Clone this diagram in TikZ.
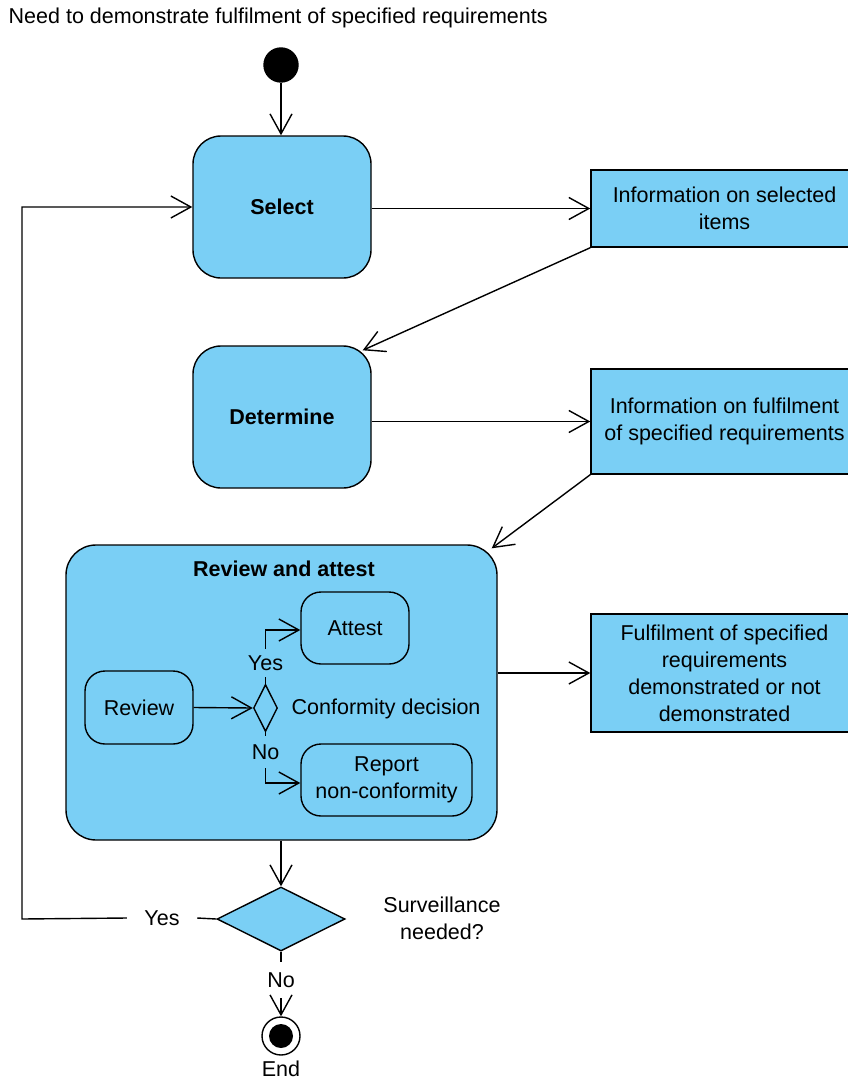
\documentclass[tikz,border=0pt]{standalone}
\usepackage{fontspec}
\setmainfont{Liberation Sans}
\usetikzlibrary{arrows.meta,shapes.geometric}
\definecolor{boxblue}{RGB}{122,207,245}
\begin{document}
\begin{tikzpicture}[x=1pt,y=-1pt,
  font=\fontsize{21.5}{27}\selectfont,
  line width=1.4pt,
  arr/.style={-{Straight Barb[length=20pt,width=22pt,line width=1.4pt]}},
  act/.style={draw, fill=boxblue, rounded corners=28pt, minimum width=178pt, minimum height=142pt, font=\fontsize{21.5}{27}\selectfont\bfseries, inner sep=0pt},
  obj/.style={draw, fill=boxblue, align=center, inner sep=0pt},
  sub/.style={draw, fill=boxblue, rounded corners=20pt, align=center, inner sep=0pt},
  lbl/.style={inner sep=0pt},
]
\useasboundingbox (0,0) rectangle (848,1081);
\node[anchor=west, inner sep=0pt] (title) at (8,18) {Need to demonstrate fulfilment of specified requirements};
\node[circle, draw, fill=black, minimum size=34pt, inner sep=0pt] (start) at (281,65) {};

\node[act] (select) at (282,207) {Select};
\node[act] (determine) at (282,417) {Determine};

\node[obj, minimum width=267pt, minimum height=77pt] (info1) at (724.5,208.5) {Information on selected\\items};
\node[obj, minimum width=267pt, minimum height=105pt] (info2) at (724.5,421.5) {Information on fulfilment\\of specified requirements};
\node[obj, minimum width=267pt, minimum height=118pt] (fulfil) at (724.5,673) {Fulfilment of specified\\requirements\\demonstrated or not\\demonstrated};

\node[draw, fill=boxblue, rounded corners=30pt, minimum width=431pt, minimum height=295pt, inner sep=0pt] (rabox) at (281.5,692.5) {};
\node[lbl, font=\fontsize{21.5}{27}\selectfont\bfseries] (ratitle) at (284,569) {Review and attest};

\node[sub, minimum width=108pt, minimum height=72pt] (attest) at (355,628) {Attest};
\node[sub, minimum width=108pt, minimum height=73pt] (review) at (139,707.5) {Review};
\node[sub, minimum width=171pt, minimum height=72pt] (report) at (386.5,780) {Report\\non-conformity};
\node[diamond, draw, fill=boxblue, minimum width=24pt, minimum height=47pt, inner sep=0pt] (sdec) at (265.5,708) {};
\node[lbl, anchor=west] (cdec) at (291,709) {Conformity decision};
\node[lbl, inner ysep=6pt] (yes1) at (265.5,663) {Yes};
\node[lbl, inner ysep=8pt] (no1) at (265.5,752) {No};

\node[diamond, draw, fill=boxblue, minimum width=128pt, minimum height=64pt, inner sep=0pt] (bdec) at (281,919) {};
\node[lbl, align=center] (surv) at (442,918) {Surveillance\\needed?};
\node[lbl, inner xsep=17pt] (yes2) at (162,918) {Yes};
\node[lbl, inner ysep=10pt] (no2) at (281,980) {No};
\coordinate (loop) at (22,919);

\node[circle, draw, fill=white, minimum size=38pt, inner sep=0pt] (end) at (281,1036) {};
\node[circle, fill=black, minimum size=24pt, inner sep=0pt] (endin) at (end.center) {};
\node[lbl] (endlbl) at (281,1069) {End};

% connectors
\draw[arr] (start.south) -- (start.south |- select.north);
\draw[arr] (select.east |- info1.west) -- (info1.west);
\draw[arr] (info1.south west) -- ([xshift=-9pt,yshift=-5pt]determine.north east);
\draw[arr] (determine.east |- info2.west) -- (info2.west);
\draw[arr] (info2.south west) -- ([xshift=-6pt,yshift=-4pt]rabox.north east);
\draw[arr] (rabox.east |- fulfil.west) -- (fulfil.west);

\draw[arr] (review.east) -- (sdec.west);
\draw (sdec.north) -- (yes1.south);
\draw[arr] (yes1.north) |- ([yshift=-2pt]attest.west);
\draw (sdec.south) -- (no1.north);
\draw[arr] (no1.south) |- ([yshift=-3pt]report.west);

\draw[arr] (rabox.south -| bdec.north) -- (bdec.north);
\draw (bdec.west) -- (yes2.east);
\draw[arr] (yes2.west) -- (loop) |- (select.west);
\draw (bdec.south) -- (no2.north);
\draw[arr] (no2.south) -- (end.north);
\end{tikzpicture}
\end{document}
